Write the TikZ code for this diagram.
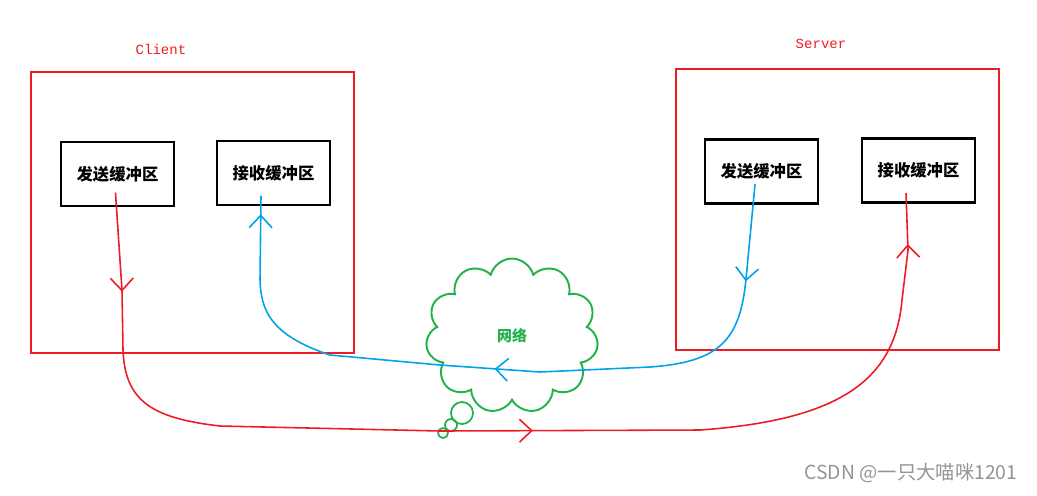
\documentclass[tikz,border=0pt]{standalone}
\usepackage{fontspec}
\newfontfamily\cjk{Noto Sans CJK SC}
\newfontfamily\paintmono{Liberation Mono}
\usetikzlibrary{arrows.meta,shapes.symbols,decorations.markings}
\definecolor{paintred}{RGB}{237,28,36}
\definecolor{paintblue}{RGB}{0,162,232}
\definecolor{paintgreen}{RGB}{34,177,76}
\tikzset{
  hostbox/.style={draw=paintred,line width=1.2pt,minimum width=6.46cm,minimum height=5.62cm},
  bufbox/.style={draw=black,line width=1.2pt,minimum width=2.26cm,minimum height=1.28cm,
    font=\cjk\bfseries\fontsize{9.3}{11}\selectfont,inner sep=0pt},
  hostlabel/.style={text=paintred,font=\paintmono\fontsize{8}{10}\selectfont},
  bubble/.style={circle,draw=paintgreen,line width=1pt,inner sep=0pt},
  flowline/.style={line width=0.9pt,line cap=round,line join=round},
  barb/.tip={Straight Barb[length=7pt,width=13pt]}
}
\begin{document}
\begin{tikzpicture}[x=0.02cm,y=-0.02cm]
  \useasboundingbox (0,0) rectangle (1037,495);
  % the two hosts
  \node[hostbox] (client) at (192.5,212.5) {};
  \node[hostbox] (server) at (837.5,209.5) {};
  \node[hostlabel] (clientlabel) at (161,49) {Client};
  \node[hostlabel] (serverlabel) at (821,44) {Server};
  % buffers
  \node[bufbox] (csend) at (117.5,174) {发送缓冲区};
  \node[bufbox] (crecv) at (273.5,173) {接收缓冲区};
  \node[bufbox] (ssend) at (761.5,171.5) {发送缓冲区};
  \node[bufbox] (srecv) at (918.5,170.5) {接收缓冲区};
  % network cloud
  \node[cloud,cloud puffs=11,cloud ignores aspect,draw=paintgreen,line width=1.1pt,
    minimum width=3.45cm,minimum height=3.1cm,text=paintgreen,
    font=\cjk\bfseries\fontsize{8.5}{10}\selectfont] (net) at (512,336) {网络};
  \node[bubble,minimum size=0.44cm] (bubblea) at (462,413) {};
  \node[bubble,minimum size=0.24cm] (bubbleb) at (451,425) {};
  \node[bubble,minimum size=0.2cm] (bubblec) at (443,433) {};
  % client -> server
  \draw[flowline,draw=paintred,postaction={decorate},decoration={markings,
      mark=at position 0.086 with {\arrow{barb}},
      mark=at position 0.53 with {\arrow{barb}},
      mark=at position 0.956 with {\arrow{barb}}}]
    ([shift={(-2,-14)}]csend.south) -- (122,290) -- (123,350)
    .. controls (125,400) and (150,418) .. (220,426)
    -- (440,431) -- (700,430)
    .. controls (840,420) and (895,380) .. (902,300)
    -- (908,250) -- ([shift={(-12.5,-10)}]srecv.south);
  % server -> client
  \draw[flowline,draw=paintblue,postaction={decorate},decoration={markings,
      mark=at position 0.128 with {\arrow{barb}},
      mark=at position 0.525 with {\arrow{barb}},
      mark=at position 0.976 with {\arrow{barb}}}]
    ([shift={(-6.5,-20)}]ssend.south) -- (746,279)
    .. controls (740,340) and (720,362) .. (650,367)
    -- (540,372) -- (440,365) -- (330,355)
    .. controls (270,335) and (261,310) .. (260,280)
    -- ([shift={(-12.5,-10)}]crecv.south);
  \node[text=black!42,font=\cjk\fontsize{11}{13}\selectfont] (mark) at (911,473) {CSDN @一只大喵咪1201};
\end{tikzpicture}
\end{document}
